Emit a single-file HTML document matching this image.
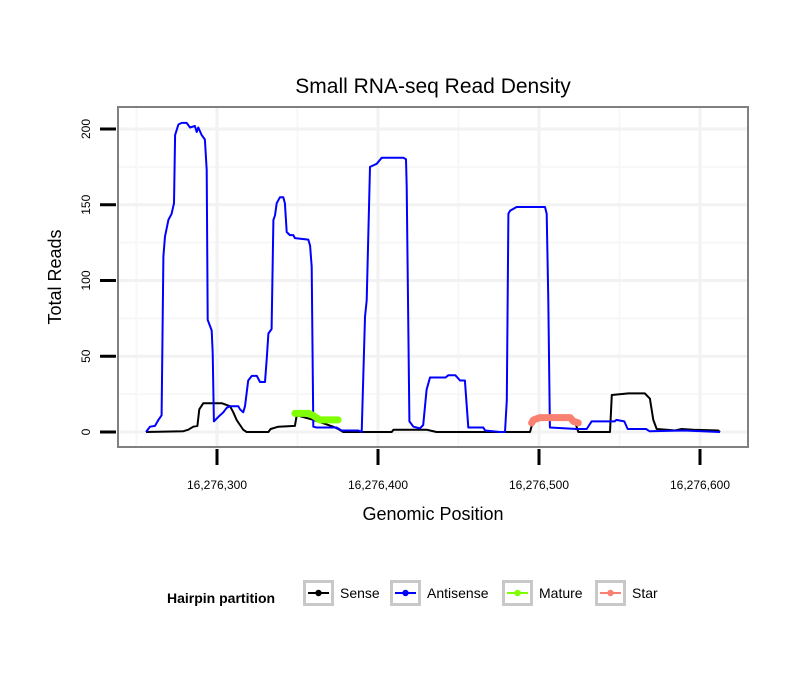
<!DOCTYPE html>
<html><head><meta charset="utf-8"><style>
html,body{margin:0;padding:0;background:#fff;}
svg{display:block;font-family:"Liberation Sans",sans-serif;}
</style></head><body>
<svg id="chart" width="810" height="690" viewBox="0 0 810 690" xmlns="http://www.w3.org/2000/svg">
<rect x="0" y="0" width="810" height="690" fill="#fff"/>
<text x="433" y="93" text-anchor="middle" font-size="21">Small RNA-seq Read Density</text>
<g id="grid"></g>
<g id="series"></g>
<rect x="118" y="107" width="630" height="340" fill="none" stroke="#808080" stroke-width="2"/>
<g id="axes"></g>
<text x="433" y="520" text-anchor="middle" font-size="18">Genomic Position</text>
<text transform="translate(61,277) rotate(-90)" text-anchor="middle" font-size="18">Total Reads</text>
<g id="legend">
<text x="167" y="603" font-size="14" font-weight="bold">Hairpin partition</text>
</g>
</svg>
<script>
const xBase = 16276300;
const xTicks = [16276300, 16276400, 16276500, 16276600];
const xTickLabels = ["16,276,300", "16,276,400", "16,276,500", "16,276,600"];
const yTicks = [0, 50, 100, 150, 200];
const yTickLabels = ["0", "50", "100", "150", "200"];

// offsets from xBase (bp) and read counts
const antisenseX = [-44.1,-41.6,-38.5,-36.4,-34.4,-33.3,-32.3,-30.2,-28.2,-26.7,-26,-24,-21.9,-18.8,-16.8,-13.7,-12.6,-11.6,-9.5,-7.5,-6.4,-5.8,-3.3,-2.7,-1.9,0.8,3.9,6,8.1,13.2,14.3,16.3,17.4,19.4,21.6,24.7,26.7,29.8,30.9,31.9,33.9,35,36,37.1,39.1,41.2,42.2,43.3,45.3,47.4,48.4,56.7,57.8,58.8,59.8,61.9,74.3,77.4,87.8,89.9,91.9,93,95,97.1,99.2,102.3,115.8,117.4,117.8,119.5,122,126,128.1,130.2,132.3,142,143.7,148,151,154,156.1,165.4,166.5,175.8,178.9,180,181,182,186.1,203.7,204.8,205.8,206.8,223.4,229.6,232.7,247,248,253,255.1,266.5,268.6,290,312.4];
const antisenseY = [0,3.5,4,8,11,116,129,140,144,151,196,203,204,204,201,202,198,201,196,193,173,74,67,52,7,10,13,16,17,17,15,13,17,34,37,37,33,33,48,65,68,140,143,151,155,155,151,132,130,130,128,127,123,109,3.5,3,3,1,1,0,76,87,175,176,177,181,181,180,162,7,3.5,2.4,4.6,28,36,36,37.5,37.5,34,34,3,3,1,0,0,21,144,146,148.5,148.5,144,87,3,2,2,7,7,8,7,2,2,0.5,1,0];
const senseX = [-44.1,-20.9,-17.8,-14.7,-12.2,-11,-8.5,2.9,8.1,10.1,12.2,14.3,16.3,18.4,31.9,33.3,38.1,48.4,49.5,60,72.2,75.3,78.4,108.5,109.6,126,130.2,132.3,136.4,194.4,196.5,222,224.4,244.1,245.2,255.5,265.8,268.9,271,273.1,279.3,284.5,288.6,295.8,311.3,312.4];
const senseY = [0,0.5,1.5,3.5,4,15,19,19,17,13,8,4.6,1.5,0,0,2,3.5,4,11,8,3.5,2,0,0,1.5,1.5,1.5,1,0,0,8,8,0,0,24.4,25.5,25.5,22,8,2,1.5,1,2,1.5,1,0];
const matureX = [48.4,57.1,60.4,63.8,75.2];
const matureY = [12.3,12.3,10.5,8,8];
const starX = [195.4,196.5,200.6,219.3,221.4,224.4];
const starY = [6,8,9.5,9.5,7,6];

const legendLabels = ["Sense","Antisense","Mature","Star"];
const legendColors = ["#000000","#0000ff","#7fff00","#fa8072"];

const NS = "http://www.w3.org/2000/svg";
function sx(off){ return 217 + off*1.61; }
function sy(v){ return 432 - v*1.515; }
function mk(tag, attrs, parent){ const e=document.createElementNS(NS,tag); for(const k in attrs) e.setAttribute(k,attrs[k]); parent.appendChild(e); return e; }

const grid=document.getElementById('grid');
mk('rect',{x:118,y:107,width:630,height:340,fill:'#fff'},grid);
[-50,50,150,250].forEach(o=>{ const l=mk('line',{x1:sx(o),x2:sx(o),y1:108,y2:446,stroke:'#f7f7f7','stroke-width':2},grid);

 });
[25,75,125,175].forEach(v=>{ const l=mk('line',{x1:119,x2:747,y1:sy(v),y2:sy(v),stroke:'#f7f7f7','stroke-width':2},grid);

 });
xTicks.forEach(t=>{ const l=mk('line',{x1:sx(t-xBase),x2:sx(t-xBase),y1:108,y2:446,stroke:'#f2f2f2','stroke-width':3},grid);

 });
yTicks.forEach(v=>{ const l=mk('line',{x1:119,x2:747,y1:sy(v),y2:sy(v),stroke:'#f2f2f2','stroke-width':3},grid);

 });

const ser=document.getElementById('series');
function path(xs,ys){ return xs.map((x,i)=>(i?'L':'M')+sx(x).toFixed(1)+','+sy(ys[i]).toFixed(1)).join(''); }
let p;
p=mk('path',{d:path(senseX,senseY),fill:'none',stroke:'#000','stroke-width':2,'stroke-linejoin':'round'},ser);


p=mk('path',{d:path(antisenseX,antisenseY),fill:'none',stroke:'#0000ff','stroke-width':2,'stroke-linejoin':'round'},ser);


p=mk('path',{d:path(matureX,matureY),fill:'none',stroke:'#7fff00','stroke-width':7,'stroke-linecap':'round','stroke-linejoin':'round'},ser);


p=mk('path',{d:path(starX,starY),fill:'none',stroke:'#fa8072','stroke-width':7,'stroke-linecap':'round','stroke-linejoin':'round'},ser);



const ax=document.getElementById('axes');
xTicks.forEach((t,i)=>{ const x=sx(t-xBase);
 const l=mk('line',{x1:x,x2:x,y1:449,y2:465,stroke:'#000','stroke-width':3},ax);
 
 
 const tx=mk('text',{x:x,y:489,'text-anchor':'middle','font-size':12},ax); tx.textContent=xTickLabels[i];
 
 
});
yTicks.forEach((v,i)=>{ const y=sy(v);
 const l=mk('line',{x1:100,x2:116,y1:y,y2:y,stroke:'#000','stroke-width':3},ax);
 
 
 const tx=mk('text',{transform:'translate(90,'+y+') rotate(-90)','text-anchor':'middle','font-size':12},ax); tx.textContent=yTickLabels[i];
 
 
});

const lg=document.getElementById('legend');
const boxX=[303,390,502,595];
legendLabels.forEach((lab,i)=>{
 const g=mk('g',{},lg);
 
 
 mk('rect',{x:boxX[i]+1.5,y:581.5,width:28,height:23,fill:'#fff',stroke:'#c8c8c8','stroke-width':3},g);
 mk('line',{x1:boxX[i]+5,x2:boxX[i]+26,y1:593,y2:593,stroke:legendColors[i],'stroke-width':2},g);
 mk('circle',{cx:boxX[i]+15.5,cy:593,r:3.2,fill:legendColors[i]},g);
 const t=mk('text',{x:boxX[i]+37,y:598,'font-size':14},g); t.textContent=lab;
});
</script>
</body></html>
